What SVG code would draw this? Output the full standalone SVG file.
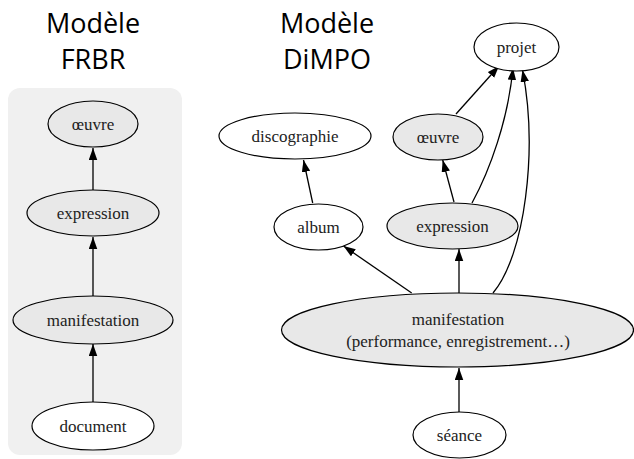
<svg xmlns="http://www.w3.org/2000/svg" width="634" height="459" viewBox="0 0 634 459">
<style>
.title{font-family:"Open Sans","Liberation Sans",sans-serif;font-size:27px;fill:#000;text-anchor:middle}
.lbl{font-family:"Liberation Serif","Times New Roman",serif;font-size:17px;fill:#222;text-anchor:middle}
.n{fill:#fff;stroke:#000;stroke-width:1.2}
.g{fill:#e8e8e8;stroke:#000;stroke-width:1.2}
.e{fill:none;stroke:#000;stroke-width:1.3}
</style>
<defs>
<marker id="ah" markerUnits="userSpaceOnUse" markerWidth="13" markerHeight="9" refX="12" refY="4.25" orient="auto">
<path d="M0,0 L12,4.25 L0,8.5 z" fill="#000"/>
</marker>
</defs>
<rect x="8" y="88" width="174" height="367" rx="12" fill="#f0f0f0"/>
<text class="title" x="93" y="33">Modèle</text>
<text class="title" x="93" y="69">FRBR</text>
<text class="title" x="327" y="33">Modèle</text>
<text class="title" x="327" y="69">DiMPO</text>
<g id="edges">
<path class="e" d="M93,190 L93,148" marker-end="url(#ah)"/>
<path class="e" d="M93,296 L93,237" marker-end="url(#ah)"/>
<path class="e" d="M93,402 L93,344" marker-end="url(#ah)"/>
<path class="e" d="M312.7,203 L303.5,160" marker-end="url(#ah)"/>
<path class="e" d="M454,202 L442.7,160" marker-end="url(#ah)"/>
<path class="e" d="M456,114 L499,66" marker-end="url(#ah)"/>
<path class="e" d="M472,203 C490,170 508,120 513,68" marker-end="url(#ah)"/>
<path class="e" d="M493,293 C525,255 538,150 522.5,70" marker-end="url(#ah)"/>
<path class="e" d="M411.7,293 L343.5,246" marker-end="url(#ah)"/>
<path class="e" d="M459,293 L459,249" marker-end="url(#ah)"/>
<path class="e" d="M459,412 L459,368" marker-end="url(#ah)"/>
</g>
<g id="frbr-oeuvre"><ellipse class="g" cx="93" cy="124" rx="45" ry="23"/><text class="lbl" x="93" y="130">œuvre</text></g>
<g id="frbr-expression"><ellipse class="g" cx="93" cy="213" rx="66" ry="23"/><text class="lbl" x="93" y="219">expression</text></g>
<g id="frbr-manifestation"><ellipse class="g" cx="93" cy="320" rx="80" ry="24"/><text class="lbl" x="93" y="326">manifestation</text></g>
<g id="frbr-document"><ellipse class="n" cx="93" cy="426" rx="61" ry="24"/><text class="lbl" x="93" y="432">document</text></g>
<g id="projet"><ellipse class="n" cx="516.5" cy="47" rx="42.5" ry="24"/><text class="lbl" x="516.5" y="53">projet</text></g>
<g id="discographie"><ellipse class="n" cx="295" cy="136" rx="76" ry="23"/><text class="lbl" x="295" y="142">discographie</text></g>
<g id="oeuvre"><ellipse class="g" cx="438" cy="137" rx="45" ry="23"/><text class="lbl" x="438" y="143">œuvre</text></g>
<g id="album"><ellipse class="n" cx="318.5" cy="227" rx="44.5" ry="23"/><text class="lbl" x="318.5" y="233">album</text></g>
<g id="expression"><ellipse class="g" cx="452.5" cy="226" rx="65.5" ry="23"/><text class="lbl" x="452.5" y="232">expression</text></g>
<g id="manifestation"><ellipse class="g" cx="457.5" cy="330" rx="176" ry="37"/><text class="lbl" x="458" y="325">manifestation</text><text class="lbl" x="458" y="347">(performance, enregistrement…)</text></g>
<g id="seance"><ellipse class="n" cx="459.5" cy="435" rx="46.5" ry="23"/><text class="lbl" x="459.5" y="441">séance</text></g>
</svg>
